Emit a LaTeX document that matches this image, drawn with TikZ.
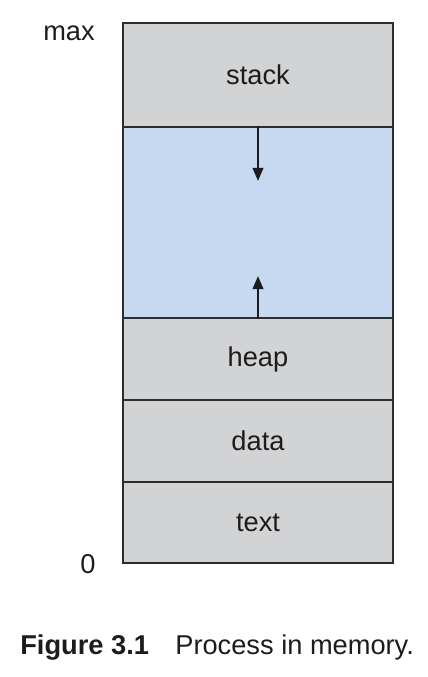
\documentclass[tikz,border=0pt]{standalone}
\usepackage{fontspec}
\setmainfont{Liberation Sans}
\usepackage{xcolor}
\usetikzlibrary{arrows.meta}
\definecolor{boxgray}{RGB}{210, 211, 213}
\definecolor{freeblue}{RGB}{198, 217, 240}
\definecolor{linegray}{RGB}{45, 45, 45}
\definecolor{ink}{RGB}{30, 27, 28}

\begin{document}
\begin{tikzpicture}[x=0.02cm, y=-0.02cm,
    seg/.style={draw=linegray, line width=0.9pt, fill=boxgray, minimum width=5.4cm,
        inner sep=0pt, text=ink, font=\fontsize{15.5}{18}\selectfont},
    lbl/.style={text=ink, inner sep=0pt, font=\fontsize{15.5}{18}\selectfont},
    growarrow/.style={draw=ink, line width=1.4pt, -{Triangle[length=7.5pt, width=6pt]}}]
        \useasboundingbox (0,0) rectangle (428,677);
        % memory segments, top to bottom
        \node[seg, minimum height=2.08cm] (stack) at (258,75) {stack};
        \node[seg, fill=freeblue, minimum height=3.82cm] (free) at (258,222.5) {};
        \node[seg, minimum height=1.64cm] (heap) at (258,359) {heap};
        \node[seg, minimum height=1.64cm] (data) at (258,441) {data};
        \node[seg, minimum height=1.62cm] (text) at (258,522.5) {text};
        % growth arrows
        \coordinate (stackend) at (258,181);
        \coordinate (heapend) at (258,276);
        \draw[growarrow] (free.north) -- (stackend);
        \draw[growarrow] (free.south) -- (heapend);
        % addresses
        \node[lbl, anchor=base] (max) at (69,40) {max};
        \node[lbl, anchor=base] (zero) at (88,573) {0};
        % caption
        \node[lbl, anchor=base west] (figno) at (20,654) {\textbf{Figure 3.1}};
        \node[lbl, anchor=base west] (caption) at (175,654) {Process in memory.};
    \end{tikzpicture}
\end{document}
